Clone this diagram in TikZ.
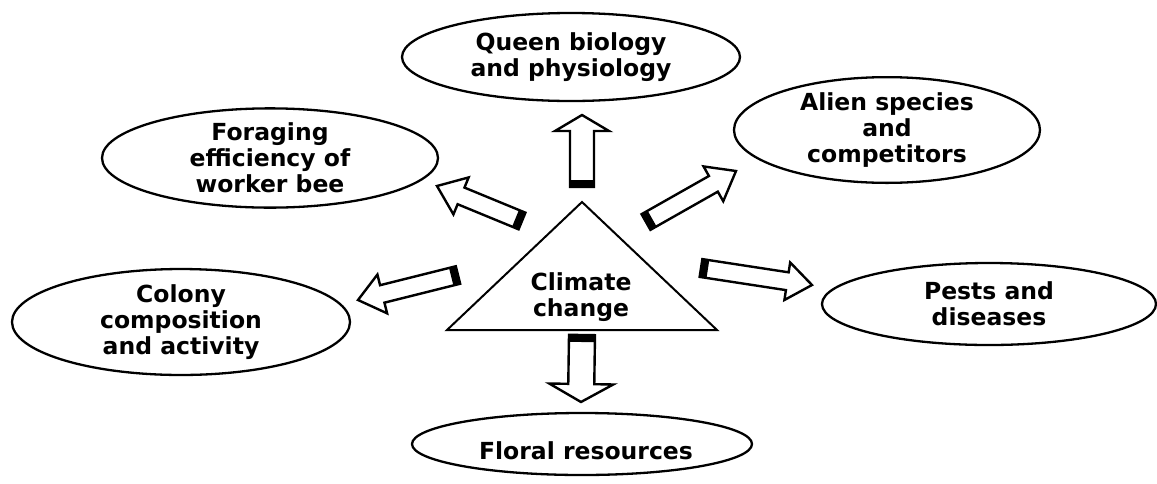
\documentclass[tikz,border=0pt]{standalone}
\usepackage{fontspec}
\setmainfont{DejaVu Sans}
\usetikzlibrary{shapes.geometric,calc}

\tikzset{
  bubble/.style={draw, ellipse, line width=2.3pt, inner sep=0pt, align=center,
    font=\bfseries\fontsize{23.5}{26}\selectfont},
  bubbletext/.style={align=center, inner sep=0pt, font=\bfseries\fontsize{23.5}{26}\selectfont},
  blockline/.style={draw, line width=2.4pt, line join=miter, fill=white},
  trioutline/.style={draw, line width=2pt, line join=miter},
}

% Hollow block arrow with a solid band at its tail.
% #1 tail, #2 tip, #3 half shaft width, #4 half head width, #5 head length
\newcommand\blockarrow[5]{%
  \coordinate (ba-b) at ($(#2)!#5!(#1)$);
  \coordinate (ba-t) at ($(#1)!7pt!(#2)$);
  \draw[blockline]
    ($(#1)!#3!90:(#2)$) -- ($(ba-b)!#3!90:(#2)$) -- ($(ba-b)!#4!90:(#2)$) --
    (#2) -- ($(ba-b)!#4!-90:(#2)$) -- ($(ba-b)!#3!-90:(#2)$) --
    ($(#1)!#3!-90:(#2)$) -- cycle;
  \fill ($(#1)!#3!90:(#2)$) -- ($(#1)!#3!-90:(#2)$) --
    ($(ba-t)!#3!-90:(#2)$) -- ($(ba-t)!#3!90:(#2)$) -- cycle;
}

\begin{document}
\begin{tikzpicture}[x=1pt, y=-1pt]
  \useasboundingbox (0,0) rectangle (1157,483);

  % effects around the central cause
  \node[bubble, minimum width=338pt, minimum height=88pt] (queen) at (571,57)
    {Queen biology\\and physiology};
  \node[bubble, minimum width=336pt, minimum height=88pt] (forage) at (270,158)
    {Foraging\\efficiency of\\worker bee};
  \node[bubble, minimum width=306pt, minimum height=88pt] (alien) at (887,130)
    {Alien species\\and\\competitors};
  \node[bubble, minimum width=338pt, minimum height=88pt] (colony) at (181,322)
    {Colony\\composition\\and activity};
  \node[bubble, minimum width=334pt, minimum height=82pt] (pests) at (989,304)
    {Pests and\\diseases};
  \node[bubble, minimum width=340pt, minimum height=62pt] (floral) at (582,444) {};
  \node[bubbletext] (floraltext) at (586,451) {Floral resources};

  % central cause
  \coordinate (apex) at (582,202);
  \coordinate (baseL) at (447,330);
  \coordinate (baseR) at (717,330);
  \draw[trioutline] (apex) -- (baseL) -- (baseR) -- cycle;
  \node[bubbletext] (climate) at (581,297) {Climate\\change};

  % arrow ends
  \coordinate (qT) at (582,187);  \coordinate (qP) at (582,115);
  \coordinate (fT) at (522,221);  \coordinate (fP) at (437,186);
  \coordinate (aT) at (646,222);  \coordinate (aP) at (736,171);
  \coordinate (cT) at (458,275);  \coordinate (cP) at (358,300);
  \coordinate (pT) at (701,268);  \coordinate (pP) at (812,285);
  \coordinate (dT) at (582,335);  \coordinate (dP) at (581,402);

  \blockarrow{qT}{qP}{12pt}{27pt}{16pt}
  \blockarrow{fT}{fP}{9pt}{20pt}{26pt}
  \blockarrow{aT}{aP}{9pt}{20pt}{26pt}
  \blockarrow{cT}{cP}{9pt}{20pt}{25pt}
  \blockarrow{pT}{pP}{9pt}{19pt}{25pt}
  \blockarrow{dT}{dP}{13pt}{32pt}{18pt}
\end{tikzpicture}
\end{document}
